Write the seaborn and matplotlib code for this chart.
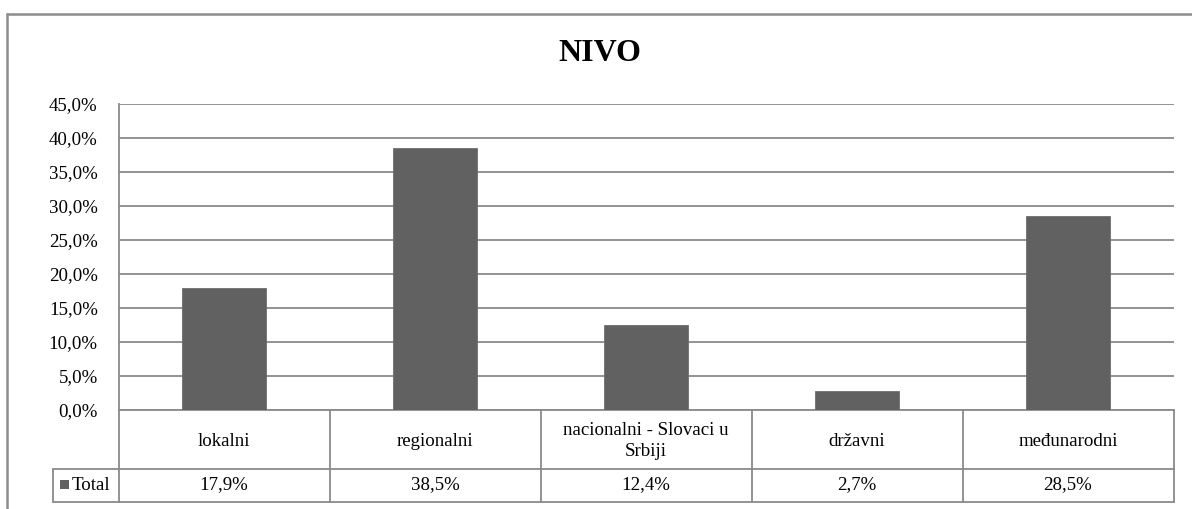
import matplotlib
matplotlib.use("Agg")
import matplotlib.pyplot as plt
from matplotlib.lines import Line2D
from matplotlib.patches import Rectangle
import seaborn as sns
import pandas as pd
import numpy as np

categories = ["lokalni", "regionalni", "nacionalni - Slovaci u\nSrbiji", "državni", "međunarodni"]
values = [17.9, 38.5, 12.4, 2.7, 28.5]
series_name = "Total"
title = "NIVO"
yticks = [0, 5, 10, 15, 20, 25, 30, 35, 40, 45]

sns.set_theme(style="white")
plt.rcParams['font.family'] = ['Liberation Serif', 'DejaVu Serif']

FS = 13.6
W, H = 1192, 509
fig = plt.figure(figsize=(W / 100, H / 100), dpi=100)
fig.patch.set_facecolor("white")

left_px, right_px, top_px, bottom_px = 118.5, 1173.5, 103.5, 409.5
ax = fig.add_axes([left_px / W, 1 - bottom_px / H, (right_px - left_px) / W, (bottom_px - top_px) / H])

df = pd.DataFrame({"cat": categories, "val": values})
bar_color = "#616161"
sns.barplot(data=df, x="cat", y="val", color=bar_color, width=0.4, saturation=1,
            edgecolor="#6e6e6e", linewidth=0.6, ax=ax, zorder=3)

ax.set_xlim(-0.5, len(categories) - 0.5)
ax.set_ylim(0, 45)
ax.set_yticks(yticks)
ax.set_yticklabels([f"{v:.1f}%".replace(".", ",") for v in yticks], fontsize=FS, color="black")
ax.set_xticks([])
ax.set_xlabel("")
ax.set_ylabel("")
ax.tick_params(axis="y", length=0, pad=15)

grid_color = "#8a8a8a"
ax.yaxis.grid(True, color=grid_color, linewidth=1.3)
ax.set_axisbelow(True)
for s in ["top", "right", "bottom"]:
    ax.spines[s].set_visible(False)
ax.spines["left"].set_color(grid_color)
ax.spines["left"].set_linewidth(1.3)

# data table beneath the plot
axh = bottom_px - top_px
row1 = -(468.5 - bottom_px) / axh
row2 = -(501.5 - bottom_px) / axh
label_left = (52.5 - left_px) / (right_px - left_px)
n = len(categories)
tkw = dict(transform=ax.transAxes, color=grid_color, linewidth=1.3, clip_on=False)

for i in range(n + 1):
    x = i / n
    ax.add_line(Line2D([x, x], [0, row2], **tkw))
ax.add_line(Line2D([0, 1], [0, 0], **tkw))
ax.add_line(Line2D([label_left, 1], [row1, row1], **tkw))
ax.add_line(Line2D([label_left, 1], [row2, row2], **tkw))
ax.add_line(Line2D([label_left, label_left], [row1, row2], **tkw))

cat_y = -(441 - bottom_px) / axh
for i, (c, v) in enumerate(zip(categories, values)):
    xc = (i + 0.5) / n
    ax.text(xc, cat_y, c, transform=ax.transAxes, ha="center", va="center",
            fontsize=FS, color="black", linespacing=1.3)
    ax.text(xc, (row1 + row2) / 2, f"{v:.1f}%".replace(".", ","), transform=ax.transAxes,
            ha="center", va="center", fontsize=FS, color="black")

# legend key + series name
fig.text(72 / W, 1 - 485 / H, series_name, ha="left", va="center", fontsize=FS, color="black")
fig.patches.append(Rectangle((59.5 / W, 1 - 488.5 / H), 9 / W, 9 / H, transform=fig.transFigure,
                             facecolor=bar_color, edgecolor="none"))

# title
fig.text(600 / W, 1 - 53 / H, title, ha="center", va="center", fontsize=23, fontweight="bold", color="black")

# outer chart frame (clipped at right and bottom)
frame_color = "#8c8c8c"
fig.add_artist(Line2D([7.5 / W, 1.0], [1 - 14 / H, 1 - 14 / H], transform=fig.transFigure,
                      color=frame_color, linewidth=1.8))
fig.add_artist(Line2D([7.5 / W, 7.5 / W], [1 - 14 / H, 0], transform=fig.transFigure,
                      color=frame_color, linewidth=1.8))

fig.savefig("out.png", dpi=100, facecolor="white")
